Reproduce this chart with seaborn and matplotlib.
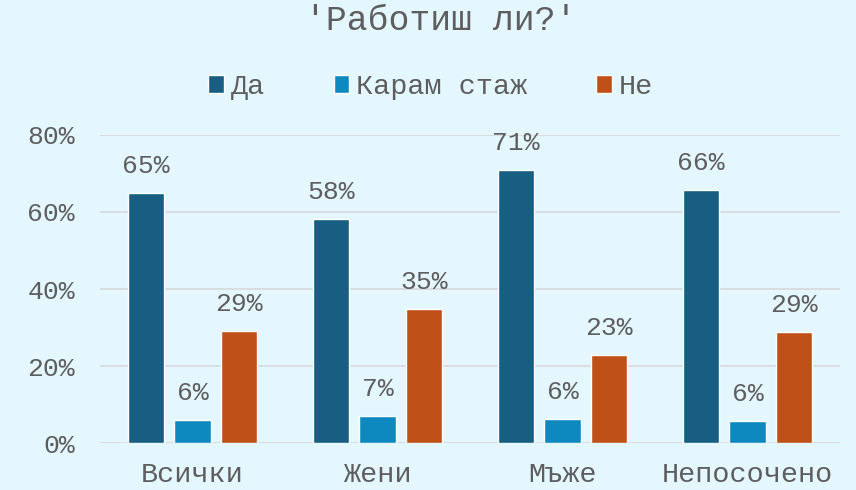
import pandas as pd
import matplotlib
matplotlib.use("Agg")
import matplotlib.pyplot as plt
from matplotlib.ticker import FuncFormatter
import seaborn as sns

# --- data (percent) ---
groups = ["Всички", "Жени", "Мъже", "Непосочено"]
series = ["Да", "Карам стаж", "Не"]
da = [64.9, 58.2, 70.9, 65.6]
staj = [6.0, 7.0, 6.2, 5.6]
ne = [29.1, 34.8, 22.9, 28.8]

colors = ["#175E82", "#0E89BF", "#BF5017"]
bg = "#E4F6FE"
txt = "#5E5E5E"

df = pd.DataFrame({
    "group": groups * 3,
    "answer": [s for s in series for _ in groups],
    "value": da + staj + ne,
})

sns.set_theme(style="white")
plt.rcParams["font.family"] = ["Liberation Mono", "DejaVu Sans Mono"]

fig = plt.figure(figsize=(8.56, 4.9), dpi=100, facecolor=bg)
ax = fig.add_axes([0.1168, 0.0959, 0.8645, 0.6286], facecolor=bg)

sns.barplot(data=df, x="group", y="value", hue="answer", order=groups,
            hue_order=series, palette=colors, width=0.75, gap=0.22,
            saturation=1, ax=ax)

# value labels above each bar
for cont, vals in zip(ax.containers, [da, staj, ne]):
    ax.bar_label(cont, labels=[f"{round(v)}%" for v in vals], padding=11,
                 fontsize=19, color=txt, clip_on=False)

ax.set_ylim(0, 80)
ax.set_yticks([0, 20, 40, 60, 80])
ax.yaxis.set_major_formatter(FuncFormatter(lambda v, p: f"{int(v)}%"))
ax.grid(axis="y", color="#D9D9D9", linewidth=1.2)
ax.set_axisbelow(True)
for s in ax.spines.values():
    s.set_visible(False)
ax.set_xlabel("")
ax.set_ylabel("")
ax.tick_params(axis="y", length=0, pad=18, labelsize=19, labelcolor=txt)
ax.tick_params(axis="x", length=0, pad=14, labelsize=20.5, labelcolor=txt)

# legend on top, centred on the figure
handles, labels = ax.get_legend_handles_labels()
ax.get_legend().remove()
fig.legend(handles, labels, loc="center", bbox_to_anchor=(0.503, 0.822),
           ncol=3, frameon=False, fontsize=20.5, labelcolor=txt,
           handlelength=0.55, handleheight=0.6, handletextpad=0.25,
           columnspacing=2.4)

fig.text(0.515, 1 - 21 / 490, "'Работиш ли?'", ha="center", va="center",
         fontsize=25, color=txt)

fig.savefig("out.png", dpi=100, facecolor=bg)
